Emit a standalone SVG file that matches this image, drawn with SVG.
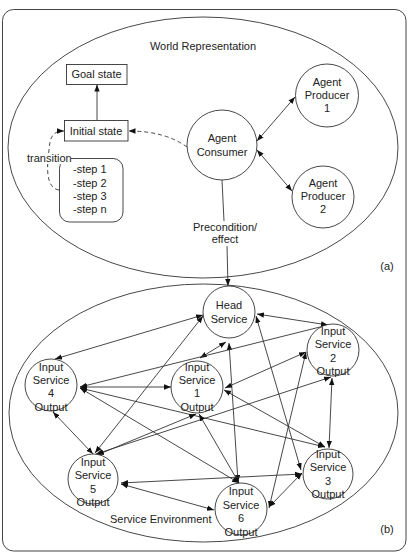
<svg xmlns="http://www.w3.org/2000/svg" width="408" height="553" viewBox="0 0 408 553">
<style>
text{font-family:"Liberation Sans",Arial,sans-serif;font-size:11px;fill:#222}
.m{text-anchor:middle}
.ln{fill:none;stroke:#333;stroke-width:0.9}
.bi{marker-start:url(#a);marker-end:url(#a)}
.en{marker-end:url(#a)}
.nd{fill:#fff;stroke:#333;stroke-width:0.9}
.ds{stroke-dasharray:4,3}
</style>
<defs>
<marker id="a" viewBox="0 0 10 10" refX="10" refY="5" markerWidth="7" markerHeight="7" markerUnits="userSpaceOnUse" orient="auto-start-reverse">
<path d="M0,1.2 L10,5 L0,8.8 z" fill="#111"/>
</marker>
</defs>
<rect x="0" y="0" width="408" height="553" fill="#fff"/>
<g id="frame">
<rect x="2.5" y="9.5" width="403.5" height="541.5" rx="11" fill="none" stroke="#444" stroke-width="1"/>
<ellipse id="world" cx="203" cy="147.5" rx="195" ry="130.5" fill="none" stroke="#333" stroke-width="0.9"/>
<ellipse id="env" cx="203.5" cy="413" rx="194.5" ry="129" fill="none" stroke="#333" stroke-width="0.9"/>
<text x="203" y="50" class="m">World Representation</text>
<text x="387" y="270" class="m">(a)</text>
<text x="110" y="523">Service Environment</text>
<text x="387" y="533" class="m">(b)</text>
</g>
<g id="connectors">
<path class="ln en" d="M97,120 L97,84.5"/>
<path class="ln ds en" d="M59,190 C45,188 47,165 49,150 C50,138 52,131 64,131"/>
<path class="ln ds en" d="M187,147 Q165,131 128.5,131"/>
<path class="ln bi" d="M257,141 L295,97"/>
<path class="ln bi" d="M257,150 L292,191"/>
<path class="ln" d="M222,180 L224,221"/>
<path class="ln en" d="M227,246 L228,286"/>
<path class="ln bi" d="M203,315 L55,359"/>
<path class="ln bi" d="M257,314 L328,325"/>
<path class="ln bi" d="M226,342 L200,358"/>
<path class="ln bi" d="M203,316 L95,453"/>
<path class="ln bi" d="M229,343 L238,482"/>
<path class="ln bi" d="M256,316 L301,470"/>
<path class="ln bi" d="M328,325 L80,387"/>
<path class="ln bi" d="M80,387 L171,387"/>
<path class="ln bi" d="M306,352 L225,388"/>
<path class="ln bi" d="M331,377 L96,454"/>
<path class="ln bi" d="M332,378 L329,448"/>
<path class="ln bi" d="M306,352 L269,508"/>
<path class="ln bi" d="M53,412 L93,454"/>
<path class="ln bi" d="M80,388 L239,483"/>
<path class="ln bi" d="M80,388 L325,447"/>
<path class="ln bi" d="M196,414 L97,455"/>
<path class="ln bi" d="M199,414 L239,483"/>
<path class="ln bi" d="M224,390 L325,447"/>
<path class="ln bi" d="M121,483 L302,474"/>
<path class="ln bi" d="M121,484 L214,510"/>
<path class="ln bi" d="M269,507 L302,473"/>
</g>
<g id="goal">
<rect x="66.5" y="64.5" width="60.5" height="20" class="nd"/>
<text x="96.5" y="78" class="m">Goal state</text>
</g>
<g id="initial">
<rect x="64.5" y="120.5" width="63.5" height="20.5" class="nd"/>
<text x="96" y="135" class="m">Initial state</text>
</g>
<g id="steps">
<rect x="59.5" y="158.5" width="63.5" height="63.5" rx="10" class="nd"/>
<rect x="26" y="153" width="45" height="11" fill="#fff"/>
<text x="27" y="162">transition</text>
<text x="73" y="173">-step 1</text>
<text x="73" y="187">-step 2</text>
<text x="73" y="200">-step 3</text>
<text x="73" y="213">-step n</text>
</g>
<g id="consumer">
<circle cx="222" cy="145" r="35" class="nd"/>
<text x="222" y="142" class="m">Agent</text>
<text x="222" y="156" class="m">Consumer</text>
</g>
<g id="producer1">
<circle cx="327" cy="95.5" r="31.5" class="nd"/>
<text x="327" y="86" class="m">Agent</text>
<text x="327" y="99" class="m">Producer</text>
<text x="327" y="112" class="m">1</text>
</g>
<g id="producer2">
<circle cx="323" cy="197" r="31" class="nd"/>
<text x="323" y="187" class="m">Agent</text>
<text x="323" y="200" class="m">Producer</text>
<text x="323" y="213" class="m">2</text>
</g>
<g id="precondition">
<text x="225" y="231" class="m">Precondition/</text>
<text x="225" y="243" class="m">effect</text>
</g>
<g id="head">
<circle cx="229" cy="312" r="26" class="nd"/>
<text x="229" y="309" class="m">Head</text>
<text x="229" y="323" class="m">Service</text>
</g>
<g id="s1">
<circle cx="197" cy="387" r="26" class="nd"/>
<text x="197" y="371" class="m">Input</text>
<text x="197" y="384" class="m">Service</text>
<text x="197" y="397" class="m">1</text>
<text x="197" y="411" class="m">Output</text>
</g>
<g id="s2">
<circle cx="333" cy="350" r="26" class="nd"/>
<text x="333" y="335" class="m">Input</text>
<text x="333" y="348" class="m">Service</text>
<text x="333" y="362" class="m">2</text>
<text x="333" y="375" class="m">Output</text>
</g>
<g id="s3">
<circle cx="328" cy="474" r="25" class="nd"/>
<text x="328" y="458" class="m">Input</text>
<text x="328" y="471" class="m">Service</text>
<text x="328" y="485" class="m">3</text>
<text x="328" y="498" class="m">Output</text>
</g>
<g id="s4">
<circle cx="51" cy="385" r="26" class="nd"/>
<text x="51" y="371" class="m">Input</text>
<text x="51" y="384" class="m">Service</text>
<text x="51" y="397" class="m">4</text>
<text x="51" y="411" class="m">Output</text>
</g>
<g id="s5">
<circle cx="93" cy="479" r="25" class="nd"/>
<text x="93" y="466" class="m">Input</text>
<text x="93" y="479" class="m">Service</text>
<text x="93" y="493" class="m">5</text>
<text x="93" y="506" class="m">Output</text>
</g>
<g id="s6">
<circle cx="241" cy="509" r="26" class="nd"/>
<text x="241" y="495" class="m">Input</text>
<text x="241" y="509" class="m">Service</text>
<text x="241" y="522" class="m">6</text>
<text x="241" y="536" class="m">Output</text>
</g>
</svg>
